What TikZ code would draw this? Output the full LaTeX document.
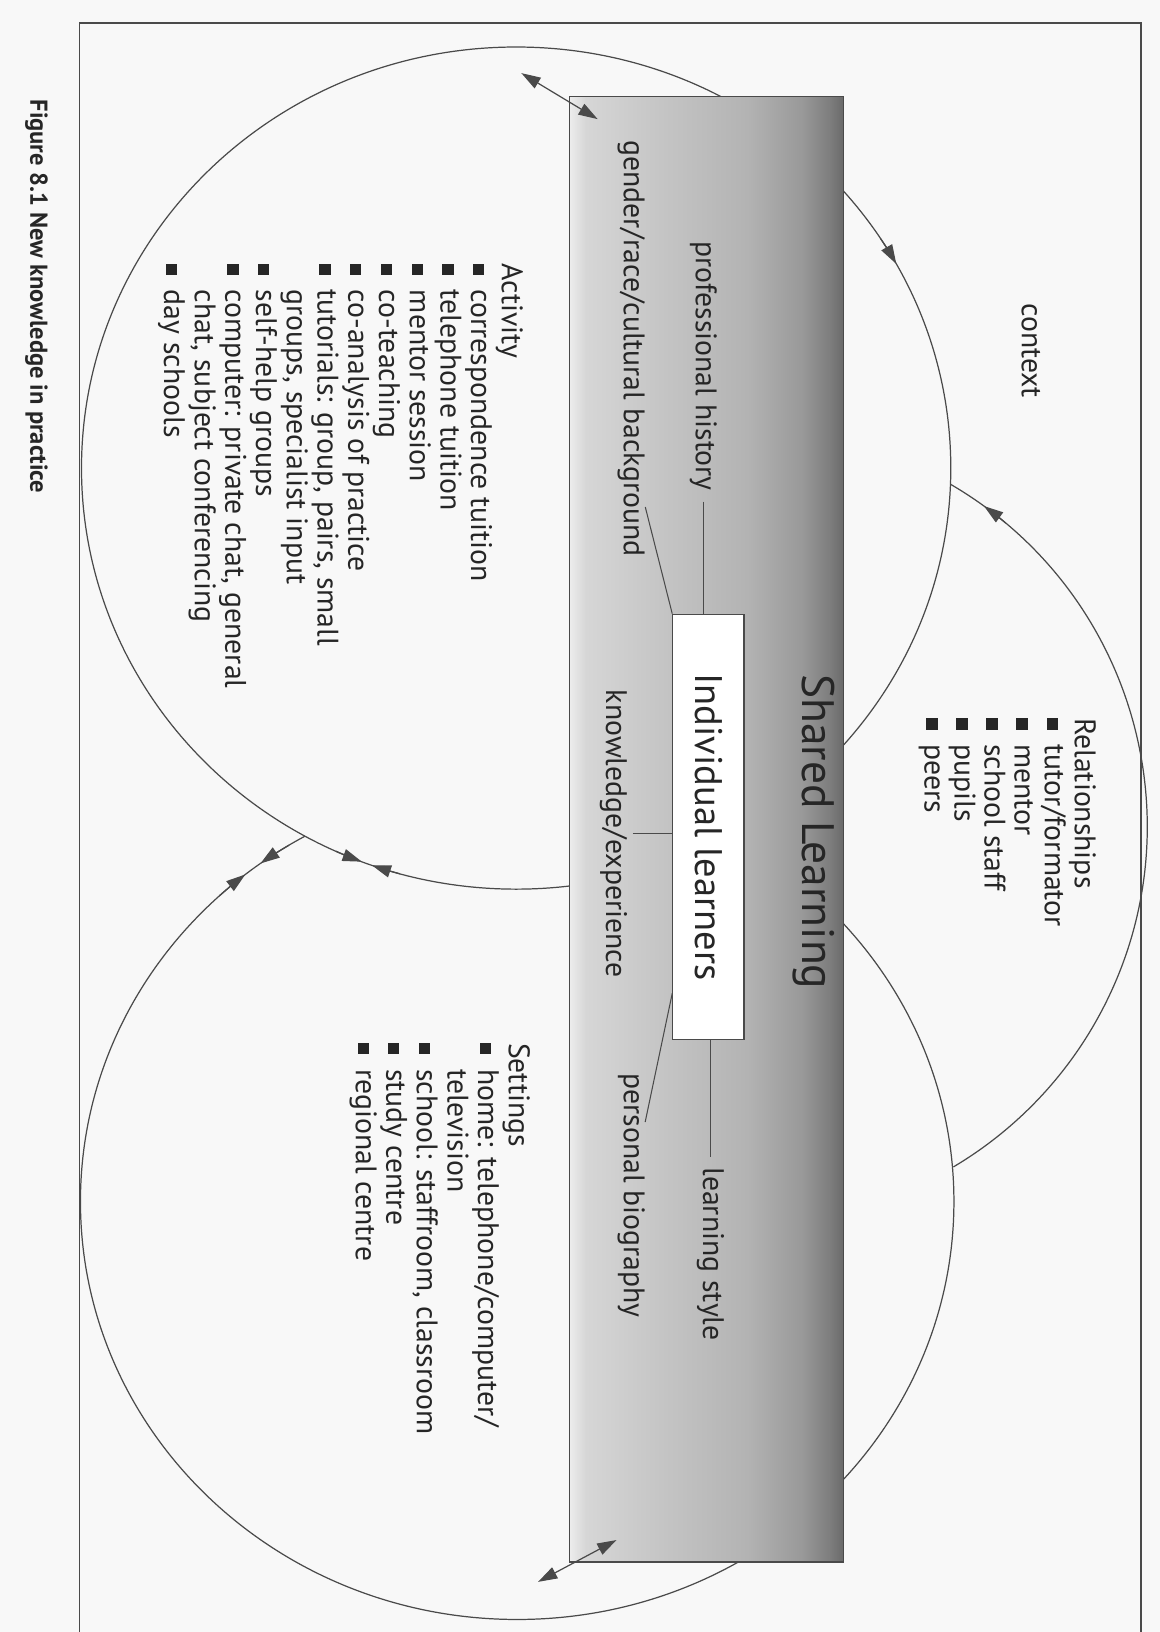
\documentclass[tikz,border=0pt]{standalone}
\usepackage{fontspec}
\setmainfont{PT Sans}
\usetikzlibrary{arrows.meta,calc}
\definecolor{ink}{HTML}{262626}
\definecolor{linec}{HTML}{4A4A4A}
\definecolor{bg}{HTML}{F8F8F8}
\definecolor{gA}{HTML}{EDEDED}
\definecolor{gB}{HTML}{D6D6D6}
\definecolor{gC}{HTML}{C4C4C4}
\definecolor{gD}{HTML}{B3B3B3}
\definecolor{gE}{HTML}{999999}
\definecolor{gF}{HTML}{7E7E7E}
\definecolor{gG}{HTML}{6A6A6A}
\pgfdeclarehorizontalshading{barshade}{100bp}{color(0bp)=(gA); color(25bp)=(gA); color(28bp)=(gB); color(42.5bp)=(gC); color(57.5bp)=(gD); color(67.5bp)=(gE); color(72.5bp)=(gF); color(75bp)=(gG); color(100bp)=(gG)}
\newcommand{\myunit}{0.021cm}
\newcommand{\bsq}{\makebox[15pt][l]{\rule[1pt]{6.5pt}{6.5pt}}}
\newcommand{\bind}{\hspace*{15pt}}
\begin{document}
\begin{tikzpicture}[x=0.021cm, y=-0.021cm,
  txt/.style={rotate=-90, inner sep=0pt, text=ink, font=\fontsize{17}{17}\selectfont},
  lst/.style={txt, anchor=base west},
  circ/.style={draw=linec, line width=0.7pt},
  tip/.style={draw=linec, fill=linec, line width=0.7pt, -{Triangle[length=11pt,width=7pt]}},
  dtip/.style={draw=linec, line width=0.7pt, {Triangle[length=11pt,width=7pt]}-{Triangle[length=11pt,width=7pt]}},
  lead/.style={draw=linec, line width=0.6pt},
  indbox/.style={rotate=-90, draw=linec, line width=0.7pt, fill=white, text=ink,
     font=\fontsize{22}{22}\selectfont, minimum width=407*\myunit, minimum height=68*\myunit, inner sep=0pt}
]
\fill[bg] (0,0) rectangle (1110,1562);
\useasboundingbox (0,0) rectangle (1110,1562);

% circle centres
\coordinate (cA) at (494,448);
\coordinate (cS) at (495,1150);
\coordinate (cR) at (719,791);

% relationships arc (visible part only)
\draw[circ] (cR) ++(-60:379) arc[start angle=-60, end angle=59.3, radius=379];
% settings and activity circles
\draw[circ, fill=bg] (cS) ellipse [x radius=418, y radius=400];
\draw[circ, fill=bg] (cA) ellipse [x radius=416, y radius=403];

% arrowheads along the circles
\draw[tip] (cA) ++(-33:416 and 403) arc[start angle=-33, end angle=-29, x radius=416, y radius=403];
\draw[tip] (cA) ++(114.5:416 and 403) arc[start angle=114.5, end angle=110.8, x radius=416, y radius=403];
\draw[tip] (cA) ++(105.5:416 and 403) arc[start angle=105.5, end angle=109.4, x radius=416, y radius=403];
\draw[tip] (cS) ++(227:418 and 400) arc[start angle=227, end angle=231.5, x radius=418, y radius=400];
\draw[tip] (cS) ++(238.5:418 and 400) arc[start angle=238.5, end angle=234, x radius=418, y radius=400];
\draw[tip] (cR) ++(-50:379) arc[start angle=-50, end angle=-54, radius=379];

% shared learning bar
\shade[shading=barshade] (545,92) rectangle (807,1495);
\draw[linec, line width=0.7pt] (545,92) rectangle (807,1495);

% double arrows at the bar corners
\coordinate (dA1) at (499,70);
\coordinate (dA2) at (572,114);
\draw[dtip] (dA1) -- (dA2);
\coordinate (dB1) at (515,1514);
\coordinate (dB2) at (590,1474);
\draw[dtip] (dB1) -- (dB2);

% individual learners box
\node[indbox] (ind) at (678,791.5) {Individual learners};

\node[lst, font=\fontsize{26}{26}\selectfont] (shl) at (768,645) {Shared Learning};

% labels around the box
\node[lst] (ph) at (666,231) {professional history};
\node[lst] (gr) at (597,134) {gender/race/cultural background};
\node[lst] (ke) at (580,660) {knowledge/experience};
\node[lst] (pb) at (597,1027) {personal biography};
\node[lst] (ls) at (673,1117) {learning style};

\draw[lead, shorten <=6pt] (ph.east) -- (ph.east |- ind.west);
\draw[lead] ($(gr.north west)!0.88!(gr.north east)$) -- (ind.south west);
\draw[lead, shorten <=3pt] (ke.north) -- (ke.north -| ind.south);
\draw[lead] ($(pb.north west)!0.2!(pb.north east)$) -- ($(ind.south west)!0.89!(ind.south east)$);
\draw[lead, shorten <=6pt] (ls.west) -- (ls.west |- ind.east);

\node[lst] (ctx) at (978,290) {context};

% lists
\foreach \i/\t in {0/{Activity}, 1/{\bsq correspondence tuition}, 2/{\bsq telephone tuition},
   3/{\bsq mentor session}, 4/{\bsq co-teaching}, 5/{\bsq co-analysis of practice},
   6/{\bsq tutorials: group, pairs, small}, 7/{\bind groups, specialist input},
   8/{\bsq self-help groups}, 9/{\bsq computer: private chat, general},
   10/{\bind chat, subject conferencing}, 11/{\bsq day schools}}
  \node[lst] (act\i) at ({480.4-29.4*\i}, 252) {\t};

\foreach \i/\t in {0/{Relationships}, 1/{\bsq tutor/formator}, 2/{\bsq mentor},
   3/{\bsq school staff}, 4/{\bsq pupils}, 5/{\bsq peers}}
  \node[lst] (rel\i) at ({1028.7-28.75*\i}, 687) {\t};

\foreach \i/\t in {0/{Settings}, 1/{\bsq home: telephone/computer/}, 2/{\bind television},
   3/{\bsq school: staffroom, classroom}, 4/{\bsq study centre}, 5/{\bsq regional centre}}
  \node[lst] (set\i) at ({487-29.3*\i}, 998) {\t};

% frame
\draw[linec, line width=0.8pt] (76,1562) -- (76,22) -- (1092,22) -- (1092,1562);

% caption
\node[lst, font=\fontsize{14}{14}\selectfont\bfseries] (cap) at (29,95) {Figure 8.1 New knowledge in practice};
\end{tikzpicture}
\end{document}
